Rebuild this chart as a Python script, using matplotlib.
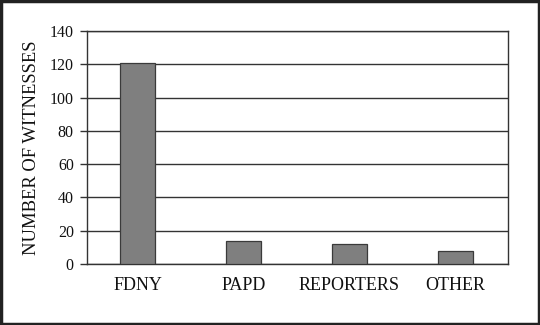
import matplotlib
matplotlib.use("Agg")
import matplotlib.pyplot as plt
from matplotlib.patches import Rectangle

categories = ["FDNY", "PAPD", "REPORTERS", "OTHER"]
values = [121, 14, 12, 8]
yticks = [0, 20, 40, 60, 80, 100, 120, 140]

plt.rcParams['font.family'] = ['Liberation Serif', 'DejaVu Serif']

fig = plt.figure(figsize=(5.4, 3.25), dpi=100)
ax = fig.add_axes([87/540, 61/325, 421/540, 233/325])

x = list(range(len(categories)))
ax.bar(x, values, width=0.33, color="#7f7f7f", edgecolor="#3a3a3a", linewidth=0.9, zorder=3)

ax.set_xlim(-0.48, 3.5)
ax.set_ylim(0, 140)
ax.set_yticks(yticks)
ax.set_xticks(x)
ax.set_xticklabels(categories, fontsize=13, color="#111111")
ax.tick_params(axis='x', length=0, pad=9)
ax.tick_params(axis='y', length=5, width=1, color="#333333", pad=4.5, labelsize=11.5, labelcolor="#111111")
ax.yaxis.grid(True, color="#333333", linewidth=1, zorder=1)
ax.set_axisbelow(True)
for s in ax.spines.values():
    s.set_color("#333333")
    s.set_linewidth(1)
ax.set_ylabel("NUMBER OF WITNESSES", fontsize=13.4, color="#111111", labelpad=7)

fig.patches.append(Rectangle((0.002, 0.003), 0.996, 0.994, transform=fig.transFigure,
                             fill=False, edgecolor="#222222", linewidth=2.5))

fig.savefig("out.png", dpi=100)
